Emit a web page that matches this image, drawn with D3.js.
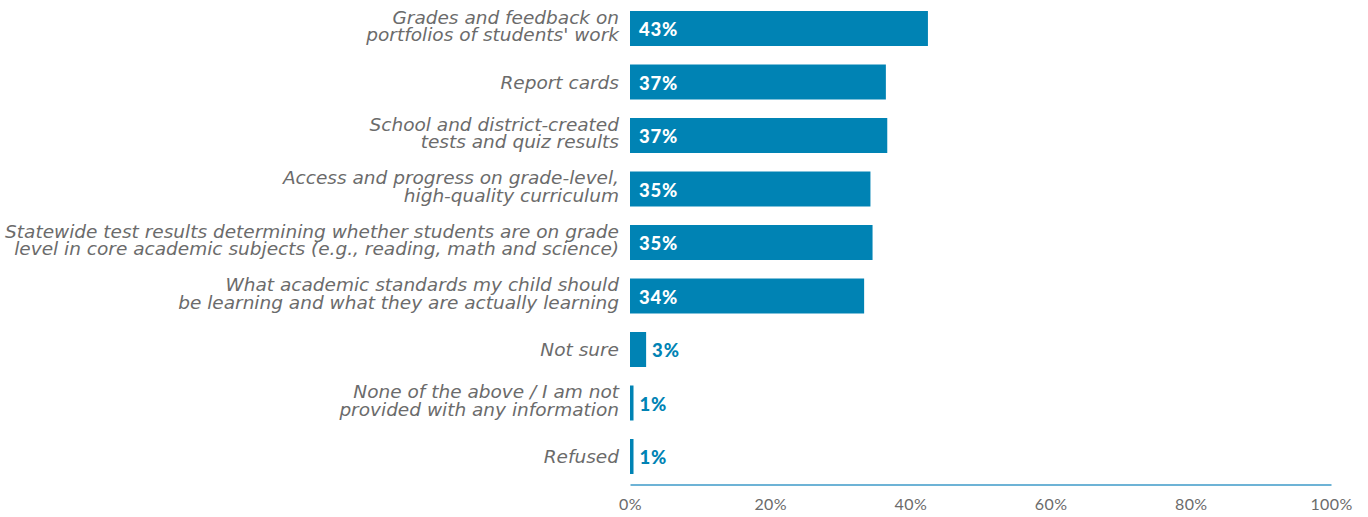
<!DOCTYPE html>
<html>
<head>
<meta charset="utf-8">
<script src="https://cdn.jsdelivr.net/npm/d3@7"></script>
<style>
  body { margin: 0; background: #fff; }
  svg { display: block; font-family: Lato, "Open Sans", sans-serif; }
</style>
</head>
<body>
<script>
'use strict';

// categories (each line of a label is its own entry)
let categories = [
  ["Grades and feedback on", "portfolios of students' work"],
  ["Report cards"],
  ["School and district-created", "tests and quiz results"],
  ["Access and progress on grade-level,", "high-quality curriculum"],
  ["Statewide test results determining whether students are on grade", "level in core academic subjects (e.g., reading, math and science)"],
  ["What academic standards my child should", "be learning and what they are actually learning"],
  ["Not sure"],
  ["None of the above / I am not", "provided with any information"],
  ["Refused"]
];

let values = [42.5, 36.5, 36.7, 34.3, 34.6, 33.4, 2.3, 0.5, 0.5];
let valueLabels = ["43%", "37%", "37%", "35%", "35%", "34%", "3%", "1%", "1%"];
let ticks = [0, 20, 40, 60, 80, 100];

(function () {
  let width = 1368, height = 517;
  let barColor = "#0083b4";
  let grey = "#6b6b6b";

  let svg = d3.select("body").append("svg")
    .attr("width", width)
    .attr("height", height);

  let x = d3.scaleLinear().domain([0, 100]).range([630, 1331]);
  let y = d3.scaleBand()
    .domain(d3.range(categories.length))
    .range([1.75, 483.25])
    .paddingInner(0.346)
    .paddingOuter(0.173);

  // bars
  svg.selectAll(".bar")
    .data(values)
    .enter()
    .append("rect")
    .attr("class", "bar")
    .attr("x", x(0))
    .attr("y", (d, i) => y(i))
    .attr("width", d => x(d) - x(0))
    .attr("height", y.bandwidth())
    .attr("fill", barColor);

  // value labels: inside (white) for big bars, outside (blue) for small ones
  svg.selectAll(".val")
    .data(values)
    .enter()
    .append("text")
    .attr("class", "val")
    .attr("x", d => d > 10 ? x(0) + 9 : x(d) + 6)
    .attr("y", (d, i) => y(i) + y.bandwidth() / 2 + 7.5)
    .attr("fill", d => d > 10 ? "#fff" : barColor)
    .style("font-size", "18.5px")
    .style("letter-spacing", "0.8px")
    .style("font-weight", 900)
    .text((d, i) => valueLabels[i]);

  // category labels
  let labels = svg.selectAll(".cat")
    .data(categories)
    .enter()
    .append("text")
    .attr("class", "cat")
    .attr("text-anchor", "end")
    .attr("fill", grey)
    .style("font-family", "'DejaVu Sans', sans-serif")
    .style("font-size", "18.5px")
    .style("font-style", "oblique");

  labels.each(function (lines, i) {
    let mid = y(i) + y.bandwidth() / 2;
    let first = lines.length === 1 ? mid + 6.5 : mid - 5;
    d3.select(this).selectAll("tspan")
      .data(lines)
      .enter()
      .append("tspan")
      .attr("x", 619)
      .attr("y", (d, j) => first + j * 17.5)
      .text(d => d);
  });

  // x axis
  let xAxis = d3.axisBottom(x)
    .tickValues(ticks)
    .tickSize(0)
    .tickPadding(14)
    .tickFormat(d => d + "%");

  let ax = svg.append("g")
    .attr("transform", "translate(0, 484.5)")
    .call(xAxis);
  ax.select(".domain").attr("stroke", "#6db3d6").attr("stroke-width", 2);
  ax.selectAll("text")
    .attr("fill", grey)
    .style("font-size", "16px")
    .style("letter-spacing", "0.4px")
    .style("font-family", "Lato, sans-serif");
})();
</script>
</body>
</html>
